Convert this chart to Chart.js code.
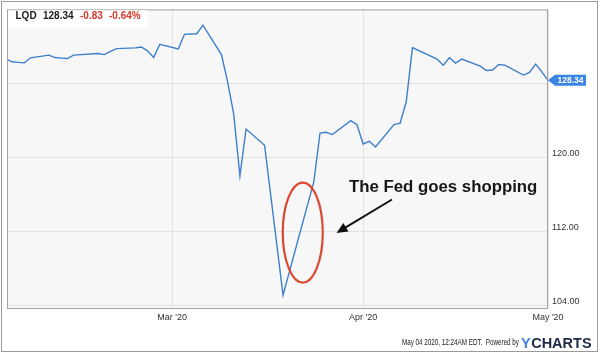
<!DOCTYPE html>
<html>
<head>
<meta charset="utf-8">
<script src="https://cdn.jsdelivr.net/npm/chart.js@4/dist/chart.umd.min.js"></script>
<style>
html,body{margin:0;padding:0;background:#fff;}
#c{display:block;}
</style>
</head>
<body>
<canvas id="c" width="600" height="353"></canvas>
<script>
const dates = [
 '2020-02-03','2020-02-04','2020-02-05','2020-02-06','2020-02-07',
 '2020-02-10','2020-02-11','2020-02-12','2020-02-13','2020-02-14',
 '2020-02-18','2020-02-19','2020-02-20','2020-02-21',
 '2020-02-24','2020-02-25','2020-02-26','2020-02-27','2020-02-28',
 '2020-03-02','2020-03-03','2020-03-04','2020-03-05','2020-03-06',
 '2020-03-09','2020-03-10','2020-03-11','2020-03-12','2020-03-13',
 '2020-03-16','2020-03-19',
 '2020-03-24','2020-03-25','2020-03-26','2020-03-27',
 '2020-03-30','2020-03-31','2020-04-01','2020-04-02','2020-04-03',
 '2020-04-06','2020-04-07','2020-04-08','2020-04-09',
 '2020-04-13','2020-04-14','2020-04-15','2020-04-16','2020-04-17',
 '2020-04-20','2020-04-21','2020-04-22','2020-04-23','2020-04-24',
 '2020-04-27','2020-04-28','2020-04-29','2020-04-30','2020-05-01'
];
const closes = [
 130.69,130.34,130.28,130.23,130.77,
 131.06,130.80,130.74,130.69,131.06,
 131.23,131.12,131.46,131.76,
 131.84,131.94,131.52,130.80,132.23,
 131.73,133.31,133.34,133.37,134.30,
 131.12,128.19,124.66,118.01,123.08,
 121.33,105.14,
 117.40,122.65,122.73,122.48,
 123.98,123.55,121.47,121.76,121.15,
 123.55,123.72,126.05,131.87,
 130.63,129.98,130.77,130.20,130.63,
 129.88,129.40,129.45,130.05,129.98,
 128.91,129.19,130.09,129.26,128.34
];
const xTickDates = ['2020-03-01','2020-04-01','2020-05-01'];
const xTickLabels = ["Mar '20","Apr '20","May '20"];
const yTicks = [104, 112, 120, 128];
const yHiddenLabels = [128];
const ticker = 'LQD';
const lastPrice = '128.34';
const change = '-0.83';
const changePct = '-0.64%';
const annotationText = 'The Fed goes shopping';
const footerText = 'May 04 2020, 12:24AM EDT.  Powered by';

const BASE = Date.UTC(2020,1,1);
function dayOf(s){ const p=s.split('-'); return (Date.UTC(+p[0],+p[1]-1,+p[2]) - BASE)/86400000; }
const points = dates.map((d,i)=>({x:dayOf(d), y:closes[i]}));
const xTickVals = xTickDates.map(dayOf);

const FONT = '"Liberation Sans", Arial, Helvetica, sans-serif';

const decor = {
  id:'decor',
  beforeDraw(chart){
    const {ctx, chartArea:a} = chart;
    ctx.save();
    ctx.fillStyle = '#ffffff';
    ctx.fillRect(0,0,chart.width,chart.height);
    ctx.fillStyle = '#f7f7f7';
    ctx.fillRect(a.left,a.top,a.right-a.left,a.bottom-a.top);
    ctx.restore();
  },
  afterDraw(chart){
    const {ctx, chartArea:a, scales} = chart;
    const xs = scales.x, ys = scales.y;
    ctx.save();
    // plot border
    ctx.strokeStyle = '#a3a3a3';
    ctx.lineWidth = 1;
    ctx.strokeRect(a.left+0.5, a.top+0.5, a.right-a.left-1, a.bottom-a.top);
    // header box
    ctx.fillStyle = '#ffffff';
    ctx.fillRect(a.left+1, a.top+1, 140, 18);
    ctx.textBaseline = 'middle';
    ctx.font = 'bold 10px ' + FONT;
    ctx.fillStyle = '#1a1a1a';
    ctx.fillText(ticker, 15.5, 16.5);
    ctx.fillText(lastPrice, 43, 16.5);
    ctx.fillStyle = '#d8372c';
    ctx.fillText(change, 80, 16.5);
    ctx.fillText(changePct, 109, 16.5);

    // ellipse annotation (anchored on data coordinates)
    const ex = xs.getPixelForValue(50.2), ey = ys.getPixelForValue(111.9);
    ctx.strokeStyle = '#d94a30';
    ctx.lineWidth = 2.2;
    ctx.beginPath();
    ctx.ellipse(ex, ey, 20, 50, 0, 0, Math.PI*2);
    ctx.stroke();

    // arrow
    const ax1 = 392, ay1 = 199.5, ax2 = 336.5, ay2 = 233;
    const ang = Math.atan2(ay2-ay1, ax2-ax1);
    const hl = 11, hw = 5;
    ctx.strokeStyle = '#111';
    ctx.fillStyle = '#111';
    ctx.lineWidth = 2;
    ctx.beginPath();
    ctx.moveTo(ax1, ay1);
    ctx.lineTo(ax2 - Math.cos(ang)*hl*0.8, ay2 - Math.sin(ang)*hl*0.8);
    ctx.stroke();
    ctx.beginPath();
    ctx.moveTo(ax2, ay2);
    ctx.lineTo(ax2 - Math.cos(ang)*hl + Math.sin(ang)*hw, ay2 - Math.sin(ang)*hl - Math.cos(ang)*hw);
    ctx.lineTo(ax2 - Math.cos(ang)*hl - Math.sin(ang)*hw, ay2 - Math.sin(ang)*hl + Math.cos(ang)*hw);
    ctx.closePath();
    ctx.fill();

    // annotation text
    ctx.font = 'bold 16.8px ' + FONT;
    ctx.fillStyle = '#161616';
    ctx.textBaseline = 'middle';
    ctx.fillText(annotationText, 349, 187.5);

    // last price tag
    const last = points[points.length-1];
    const ty = ys.getPixelForValue(last.y);
    const tx = a.right;
    ctx.fillStyle = '#3a84e4';
    ctx.beginPath();
    ctx.moveTo(tx, ty);
    ctx.lineTo(tx+7, ty-5.5);
    ctx.lineTo(tx+38, ty-5.5);
    ctx.lineTo(tx+38, ty+5.5);
    ctx.lineTo(tx+7, ty+5.5);
    ctx.closePath();
    ctx.fill();
    ctx.fillStyle = '#ffffff';
    ctx.font = 'bold 8.5px ' + FONT;
    ctx.textAlign = 'center';
    ctx.fillText(last.y.toFixed(2), tx+22.5, ty+0.5);

    // footer
    ctx.textAlign = 'left';
    ctx.font = '9px ' + FONT;
    ctx.fillStyle = '#222';
    const fw = ctx.measureText(footerText).width;
    const target = 117;
    ctx.save();
    ctx.translate(402, 342.5);
    ctx.scale(target/fw, 1);
    ctx.fillText(footerText, 0, 0);
    ctx.restore();
    ctx.font = 'bold 14.5px ' + FONT;
    ctx.textBaseline = 'alphabetic';
    ctx.fillStyle = '#3a84e4';
    ctx.fillText('Y', 521, 347.5);
    const yw = ctx.measureText('Y').width;
    ctx.fillStyle = '#1c2a48';
    ctx.fillText('CHARTS', 521 + yw + 0.5, 347.5);

    // outer frame
    ctx.strokeStyle = '#9a9a9a';
    ctx.lineWidth = 1;
    ctx.strokeRect(1.5, 1.5, 596, 350);
    ctx.restore();
  }
};

new Chart(document.getElementById('c'), {
  type: 'line',
  data: {
    datasets: [{
      data: points,
      borderColor: '#3d7fcc',
      borderWidth: 1.4,
      pointRadius: 0,
      tension: 0,
      fill: false
    }]
  },
  options: {
    responsive: false,
    animation: false,
    events: [],
    layout: { padding: { left: 7, top: 7, right: 0, bottom: 0 } },
    plugins: { legend: { display: false }, tooltip: { enabled: false } },
    scales: {
      x: {
        type: 'linear',
        min: 2.2,
        max: 90,
        afterBuildTicks(scale){ scale.ticks = xTickVals.map(v=>({value:v})); },
        afterFit(scale){ scale.height = 45; },
        grid: { color: '#e3e3e3', drawTicks: false },
        border: { display: false },
        ticks: {
          padding: 4,
          maxRotation: 0,
          autoSkip: false,
          color: '#333',
          font: { family: FONT, size: 9 },
          callback(v){ const i = xTickVals.indexOf(v); return i >= 0 ? xTickLabels[i] : ''; }
        }
      },
      y: {
        type: 'linear',
        position: 'right',
        min: 103.75,
        max: 136.0,
        afterBuildTicks(scale){ scale.ticks = yTicks.map(v=>({value:v})); },
        afterFit(scale){ scale.width = 52; },
        grid: { color: '#e3e3e3', drawTicks: false },
        border: { display: false },
        ticks: {
          padding: 4,
          labelOffset: -4,
          color: '#333',
          font: { family: FONT, size: 9 },
          callback(v){ return yHiddenLabels.includes(v) ? '' : v.toFixed(2); }
        }
      }
    }
  },
  plugins: [decor]
});
</script>
</body>
</html>
